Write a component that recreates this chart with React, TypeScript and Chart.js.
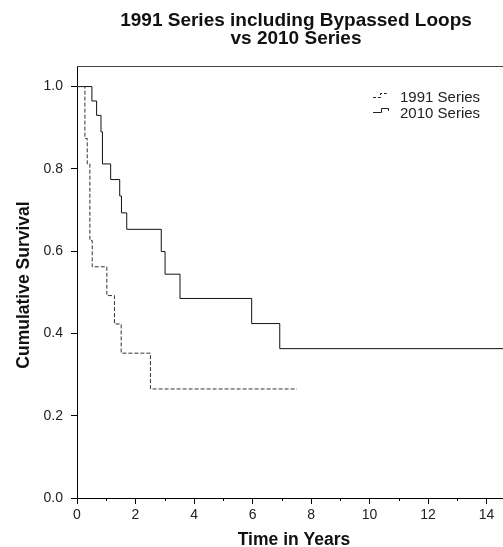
import React, { useEffect, useRef } from "react";
import { Chart, registerables } from "chart.js";

Chart.register(...registerables);

const titleLines = ["1991 Series including Bypassed Loops", "vs 2010 Series"];
const xTitle = "Time in Years";
const yTitle = "Cumulative Survival";
const seriesNames = ["1991 Series", "2010 Series"];

const times1991 = [0, 0.27, 0.35, 0.44, 0.52, 1.02, 1.28, 1.51, 2.51, 7.52];
const surv1991 = [1.0, 0.874, 0.812, 0.626, 0.562, 0.492, 0.423, 0.352, 0.265, 0.265];

const times2010 = [0, 0.51, 0.67, 0.82, 0.87, 1.15, 1.46, 1.52, 1.7, 2.88, 3.01, 3.52, 5.97, 6.93, 15];
const surv2010 = [1.0, 0.965, 0.93, 0.89, 0.812, 0.774, 0.734, 0.693, 0.653, 0.599, 0.544, 0.485, 0.424, 0.363, 0.363];

const xMin = 0;
const xMax = 14.56;
const xStep = 2;
const xMinorTicks = [1, 3, 5, 7, 9, 11, 13];
const yMin = 0;
const yMax = 1.05;
const yStep = 0.2;

const FONT = '"Liberation Sans", Arial, Helvetica, sans-serif';

const decorPlugin = {
  id: "decor",
  afterDraw(chart: any) {
    const ctx = chart.ctx;
    const ca = chart.chartArea;
    const xs = chart.scales.x;
    ctx.save();
    // top frame line
    ctx.strokeStyle = "#444";
    ctx.lineWidth = 1;
    ctx.beginPath();
    ctx.moveTo(ca.left, Math.round(ca.top) + 0.5);
    ctx.lineTo(ca.right, Math.round(ca.top) + 0.5);
    ctx.stroke();
    // minor ticks
    ctx.strokeStyle = "#000";
    for (const v of xMinorTicks) {
      const px = Math.round(xs.getPixelForValue(v)) + 0.5;
      ctx.beginPath();
      ctx.moveTo(px, ca.bottom);
      ctx.lineTo(px, ca.bottom + 3);
      ctx.stroke();
    }
    // title
    ctx.fillStyle = "#111";
    ctx.textAlign = "center";
    ctx.textBaseline = "alphabetic";
    ctx.font = `bold 19px ${FONT}`;
    ctx.fillText(titleLines[0], 296, 26);
    ctx.fillText(titleLines[1], 296, 43.5);
    // x title
    ctx.font = `bold 17.5px ${FONT}`;
    ctx.fillText(xTitle, 294, 545);
    // y title
    ctx.save();
    ctx.translate(29, 285);
    ctx.rotate(-Math.PI / 2);
    ctx.fillText(yTitle, 0, 0);
    ctx.restore();
    // legend
    ctx.textAlign = "left";
    ctx.font = `15px ${FONT}`;
    ctx.fillStyle = "#222";
    ctx.fillText(seriesNames[0], 400, 102);
    ctx.fillText(seriesNames[1], 400, 117.5);
    ctx.strokeStyle = "#222";
    ctx.lineWidth = 1;
    // dashed symbol
    ctx.setLineDash([3, 2]);
    ctx.beginPath();
    ctx.moveTo(373, 97.5);
    ctx.lineTo(380.5, 97.5);
    ctx.lineTo(380.5, 93.5);
    ctx.lineTo(386.5, 93.5);
    ctx.lineTo(386.5, 96);
    ctx.stroke();
    ctx.setLineDash([]);
    ctx.beginPath();
    ctx.moveTo(373, 112.5);
    ctx.lineTo(381.5, 112.5);
    ctx.lineTo(381.5, 108.5);
    ctx.lineTo(388.5, 108.5);
    ctx.lineTo(388.5, 111);
    ctx.stroke();
    ctx.restore();
  },
};

export default function App() {
  const ref = useRef<HTMLCanvasElement | null>(null);
  useEffect(() => {
    document.body.style.margin = "0";
    const toPts = (t: number[], s: number[]) => t.map((x, i) => ({ x, y: s[i] }));
    const chart = new Chart(ref.current as HTMLCanvasElement, {
      type: "line",
      data: {
        datasets: [
          {
            label: seriesNames[0],
            data: toPts(times1991, surv1991),
            stepped: "before",
            borderColor: "#333",
            borderWidth: 1,
            borderDash: [4, 2],
            pointRadius: 0,
            fill: false,
          },
          {
            label: seriesNames[1],
            data: toPts(times2010, surv2010),
            stepped: "before",
            borderColor: "#111",
            borderWidth: 1,
            pointRadius: 0,
            fill: false,
          },
        ],
      },
      options: {
        animation: false,
        responsive: false,
        layout: { padding: { top: 66, left: 0, right: 0, bottom: 0 } },
        plugins: {
          legend: { display: false },
          title: { display: false },
          tooltip: { enabled: false },
        },
        scales: {
          x: {
            type: "linear",
            min: xMin,
            max: xMax,
            afterFit: (s: any) => {
              s.height = 49;
            },
            border: { display: true, color: "#000", width: 1 },
            grid: { drawOnChartArea: false, drawTicks: true, tickLength: 6, color: "#000", tickColor: "#000" },
            ticks: {
              stepSize: xStep,
              includeBounds: false,
              autoSkip: false,
              maxRotation: 0,
              padding: 3,
              color: "#222",
              font: { family: FONT, size: 14 },
              callback: (v: any) => String(v),
            },
          },
          y: {
            type: "linear",
            min: yMin,
            max: yMax,
            afterFit: (s: any) => {
              s.width = 77;
            },
            border: { display: true, color: "#000", width: 1 },
            grid: { drawOnChartArea: false, drawTicks: true, tickLength: 6, color: "#000", tickColor: "#000" },
            ticks: {
              stepSize: yStep,
              includeBounds: false,
              padding: 8,
              color: "#222",
              font: { family: FONT, size: 14 },
              callback: (v: any) => Number(v).toFixed(1),
            },
          },
        },
      },
      plugins: [decorPlugin],
    } as any);
    return () => chart.destroy();
  }, []);
  return (
    <div style={{ position: "absolute", left: 0, top: 0, width: 503, height: 547 }}>
      <canvas ref={ref} width={503} height={547} style={{ width: 503, height: 547, display: "block" }} />
    </div>
  );
}
